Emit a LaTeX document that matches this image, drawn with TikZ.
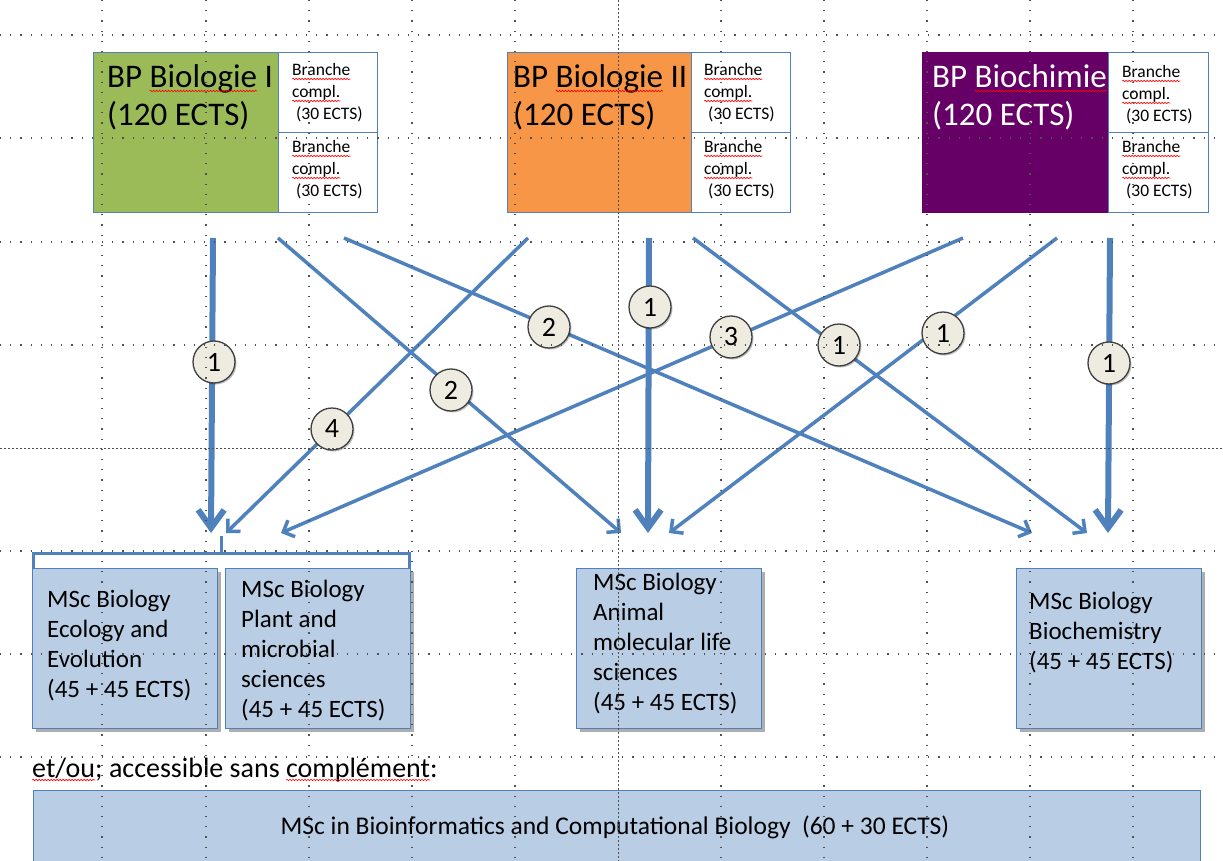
\documentclass[tikz,border=0pt]{standalone}
\usepackage{fontspec}
\setmainfont{Carlito}
\usetikzlibrary{arrows.meta,shadows,decorations.pathmorphing}
\newcommand\redwave[1]{\tikz[baseline=(wv.base)]{\node[inner sep=0pt,outer sep=0pt,anchor=base] (wv) at (0,0) {#1};
  \draw[overlay, red, line width=0.6pt, decorate, decoration={snake, amplitude=0.7pt, segment length=3pt}]
  ([yshift=-3pt]wv.base west) -- ([yshift=-3pt]wv.base east);}}
\definecolor{bline}{HTML}{4F81BD}
\definecolor{bpgreen}{HTML}{9BBB59}
\definecolor{bporange}{HTML}{F79646}
\definecolor{bppurple}{HTML}{660066}
\definecolor{mscfill}{HTML}{B9CDE5}
\definecolor{circfill}{HTML}{EEECE1}
\definecolor{gridc}{HTML}{505050}
\tikzset{
  bpbox/.style={draw=bline, line width=1.2pt, anchor=north west, inner sep=0,
    minimum width=185pt, minimum height=160pt},
  brbox/.style={draw=bline, line width=1.2pt, fill=white, anchor=north west, inner sep=0,
    minimum width=99pt, minimum height=80pt},
  titletext/.style={anchor=base west, inner sep=0, font=\fontsize{33}{38}\selectfont},
  brtext/.style={anchor=base west, inner sep=0, font=\fontsize{17.5}{22}\selectfont},
  mscbox/.style={draw=bline, line width=1.2pt, fill=mscfill, anchor=north west, inner sep=0,
    minimum width=185pt, minimum height=160pt,
    drop shadow={shadow xshift=3pt, shadow yshift=-3pt, opacity=0.45, fill=black!70}},
  msctext/.style={anchor=base west, inner sep=0, font=\fontsize{25}{30}\selectfont},
  bigarrow/.style={draw=bline, line width=6pt, -{Straight Barb[length=18pt,width=26pt]}},
  thinarrow/.style={draw=bline, line width=3.5pt, -{Straight Barb[length=9pt,width=18pt]}},
  numc/.style={circle, draw=black!75, line width=1.3pt, fill=circfill, minimum size=42pt,
    inner sep=0, font=\fontsize{28}{30}\selectfont,
    drop shadow={shadow xshift=1.5pt, shadow yshift=-1.5pt, opacity=0.25, fill=black}},
  gridline/.style={gridc, line width=1.2pt, dash pattern=on 1.2pt off 9pt},
  gridcenter/.style={gridc, line width=1pt, dash pattern=on 2pt off 2pt},
}
\begin{document}
\begin{tikzpicture}[x=1pt,y=-1pt]
\fill[white] (0,0) rectangle (1223,861);
\useasboundingbox (0,0) rectangle (1223,861);

% ---- top boxes ----
\node[bpbox, fill=bpgreen] (bp1) at (93,52) {};
\node[brbox] (br1a) at (278,52) {};
\node[brbox] (br1b) at (278,132) {};
\node[bpbox, fill=bporange] (bp2) at (507,52) {};
\node[brbox] (br2a) at (691,52) {};
\node[brbox] (br2b) at (691,132) {};
\node[bpbox, fill=bppurple, draw=bppurple] (bp3) at (922,52) {};
\node[brbox, minimum width=100pt] (br3a) at (1108,52) {};
\node[brbox, minimum width=100pt] (br3b) at (1108,132) {};

\node[titletext] (t1) at (107,88) {\vtop{\hbox{BP \redwave{Biologie} I}\hbox{(120 ECTS)}}};
\node[titletext] (t2) at (513,88) {\vtop{\hbox{BP \redwave{Biologie} II}\hbox{(120 ECTS)}}};
\node[titletext, text=white] (t3) at (932,88) {\vtop{\hbox{BP \redwave{Biochimie}}\hbox{(120 ECTS)}}};

\node[brtext] (b1a) at (292,76) {\vtop{\hbox{\redwave{Branche}}\hbox{\redwave{compl.}}\hbox{\ (30 ECTS)}}};
\node[brtext] (b1b) at (292,153) {\vtop{\hbox{\redwave{Branche}}\hbox{\redwave{compl.}}\hbox{\ (30 ECTS)}}};
\node[brtext] (b2a) at (704,76) {\vtop{\hbox{\redwave{Branche}}\hbox{\redwave{compl.}}\hbox{\ (30 ECTS)}}};
\node[brtext] (b2b) at (704,153) {\vtop{\hbox{\redwave{Branche}}\hbox{\redwave{compl.}}\hbox{\ (30 ECTS)}}};
\node[brtext] (b3a) at (1122,78) {\vtop{\hbox{\redwave{Branche}}\hbox{\redwave{compl.}}\hbox{\ (30 ECTS)}}};
\node[brtext] (b3b) at (1122,153) {\vtop{\hbox{\redwave{Branche}}\hbox{\redwave{compl.}}\hbox{\ (30 ECTS)}}};

% ---- arrows ----
\coordinate (s1) at (213,238); \coordinate (e1) at (211,533);
\coordinate (s2) at (278,238); \coordinate (e2) at (621,533);
\coordinate (s3) at (344,238); \coordinate (e3) at (1032,533);
\coordinate (s4) at (528,238); \coordinate (e4) at (226,533);
\coordinate (s5) at (649,238); \coordinate (e5) at (648,533);
\coordinate (s6) at (693,238); \coordinate (e6) at (1087,533);
\coordinate (s7) at (963,238); \coordinate (e7) at (281,533);
\coordinate (s8) at (1057,238); \coordinate (e8) at (669,533);
\coordinate (s9) at (1110,238); \coordinate (e9) at (1108,533);

\draw[bigarrow] (s1) -- (e1);
\draw[thinarrow] (s2) -- (e2);
\draw[thinarrow] (s3) -- (e3);
\draw[thinarrow] (s4) -- (e4);
\draw[bigarrow] (s5) -- (e5);
\draw[thinarrow] (s6) -- (e6);
\draw[thinarrow] (s7) -- (e7);
\draw[thinarrow] (s8) -- (e8);
\draw[bigarrow] (s9) -- (e9);

\node[numc] (n1) at (214,362) {1};
\node[numc] (n2) at (451,390) {2};
\node[numc] (n3) at (549,327) {2};
\node[numc] (n4) at (332,429) {4};
\node[numc] (n5) at (650,307) {1};
\node[numc] (n6) at (839,345) {1};
\node[numc] (n7) at (731,337) {3};
\node[numc] (n8) at (943,333) {1};
\node[numc] (n9) at (1109,363) {1};

% ---- bracket ----
\draw[bline, line width=3pt] (33,569) -- (33,553) -- (409,553) -- (409,569);
\draw[bline, line width=3pt] (221,553) -- (221,536);

% ---- MSc boxes ----
\node[mscbox] (m1) at (32,568) {};
\node[mscbox] (m2) at (225,568) {};
\node[mscbox] (m3) at (576,568) {};
\node[mscbox] (m4) at (1016,568) {};

\node[msctext] (mt1) at (47,607) {\vtop{\hbox{MSc Biology}\hbox{Ecology and}\hbox{Evolution}\hbox{(45 + 45 ECTS)}}};
\node[msctext] (mt2) at (241,597) {\vtop{\hbox{MSc Biology}\hbox{Plant and}\hbox{microbial}\hbox{sciences}\hbox{(45 + 45 ECTS)}}};
\node[msctext] (mt3) at (593,590) {\vtop{\hbox{MSc Biology}\hbox{Animal}\hbox{molecular life}\hbox{sciences}\hbox{(45 + 45 ECTS)}}};
\node[msctext] (mt4) at (1029,609) {\vtop{\hbox{MSc Biology}\hbox{Biochemistry}\hbox{(45 + 45 ECTS)}}};

% ---- bottom ----
\node[anchor=base west, inner sep=0, font=\fontsize{28}{32}\selectfont] (etou) at (32,777)
  {\redwave{et/ou}; accessible sans \redwave{complément}:};
\node[draw=bline, line width=1.2pt, fill=mscfill, anchor=north west, inner sep=0,
  minimum width=1167pt, minimum height=90pt] (bar) at (33,790) {};
\node[anchor=base, inner sep=0, font=\fontsize{25.5}{30}\selectfont] (bart) at (615,834)
  {MSc in Bioinformatics and Computational Biology\ \ (60 + 30 ECTS)};

% ---- grid overlay ----
\foreach \yy in {35,138,242,345,551,654,757}
  \draw[gridline] (0,\yy) -- (1223,\yy);
\draw[gridcenter] (0,448) -- (1223,448);
\foreach \xx in {102,206,309,412,515,721,824,927,1030,1133}
  \draw[gridline] (\xx,0) -- (\xx,861);
\draw[gridcenter] (618,0) -- (618,861);
\end{tikzpicture}
\end{document}
